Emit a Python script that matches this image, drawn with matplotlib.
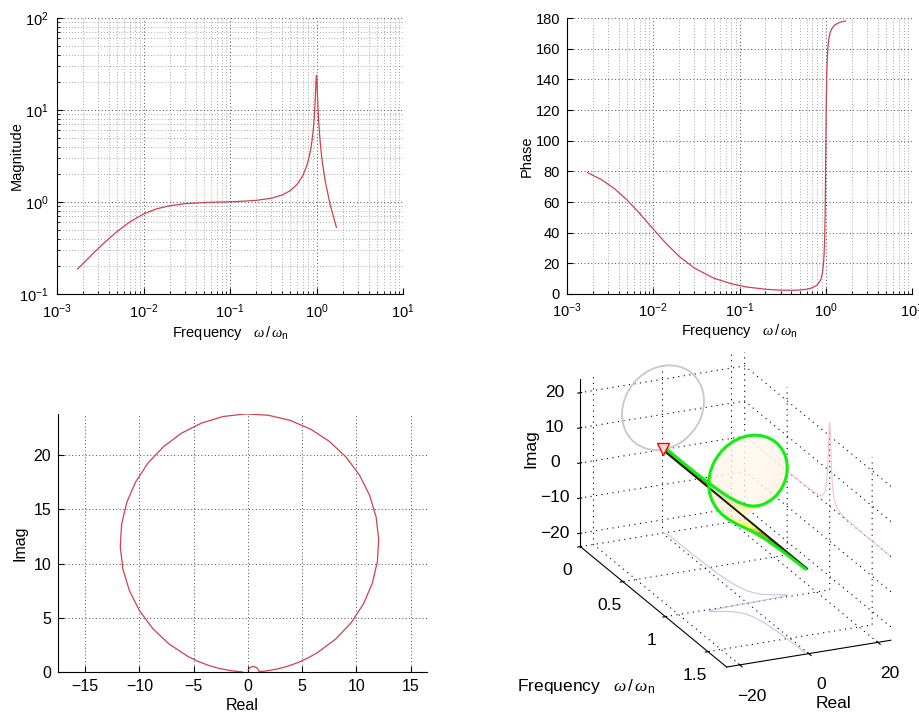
import numpy as np
import matplotlib
matplotlib.use("Agg")
import matplotlib.pyplot as plt
from matplotlib.colors import LinearSegmentedColormap
from matplotlib.ticker import LogLocator, NullFormatter
from mpl_toolkits.mplot3d.art3d import Poly3DCollection

plt.rcParams["font.family"] = ["Liberation Sans", "DejaVu Sans"]
plt.rcParams["mathtext.fontset"] = "custom"
plt.rcParams["mathtext.rm"] = "Liberation Sans"
plt.rcParams["mathtext.it"] = "Liberation Serif:italic"

# frequency response samples, w / wn
freq = [0.00173, 0.0025, 0.0035, 0.005, 0.007, 0.01, 0.014, 0.02, 0.03, 0.05,
        0.08, 0.12, 0.2, 0.3, 0.4, 0.5, 0.6, 0.7, 0.7884, 0.8531,
        0.888, 0.9098, 0.9247, 0.944, 0.956, 0.9643, 0.9705, 0.9753, 0.9792, 0.9825,
        0.9854, 0.988, 0.9903, 0.9924, 0.9944, 0.9963, 0.9982, 1.0, 1.0018, 1.0037,
        1.0056, 1.0077, 1.0098, 1.0122, 1.0148, 1.0178, 1.0212, 1.0253, 1.0304, 1.037,
        1.046, 1.0594, 1.0814, 1.0992, 1.1262, 1.1722, 1.2684, 1.45, 1.7]

magnitude = [0.187, 0.265, 0.359, 0.482, 0.610, 0.740, 0.839, 0.911, 0.958, 0.986,
             1.000, 1.012, 1.041, 1.098, 1.190, 1.333, 1.562, 1.958, 2.632, 3.643,
             4.656, 5.665, 6.664, 8.627, 10.53, 12.35, 14.07, 15.69, 17.19, 18.56,
             19.79, 20.87, 21.79, 22.55, 23.13, 23.54, 23.76, 23.81, 23.68, 23.36,
             22.87, 22.20, 21.37, 20.37, 19.22, 17.92, 16.49, 14.93, 13.25, 11.48,
             9.62, 7.69, 5.70, 4.688, 3.67, 2.651, 1.64, 0.906, 0.529]

# phase in degrees
phase = [79.2, 74.6, 69.0, 61.2, 52.4, 42.3, 33.1, 24.5, 16.9, 10.4,
         6.7, 4.6, 3.1, 2.5, 2.4, 2.6, 3.1, 4.1, 5.7, 8.1,
         10.6, 13.1, 15.6, 20.6, 25.5, 30.5, 35.5, 40.5, 45.5, 50.5,
         55.5, 60.5, 65.5, 70.5, 75.5, 80.5, 85.5, 90.5, 95.5, 100.5,
         105.5, 110.5, 115.5, 120.5, 125.5, 130.5, 135.5, 140.5, 145.5, 150.5,
         155.5, 160.5, 165.5, 168.0, 170.5, 172.9, 175.4, 177.2, 178.1]

f = np.array(freq)
mag = np.array(magnitude)
ph = np.radians(phase)
re = mag * np.cos(ph)
im = mag * np.sin(ph)

red = "#d0404c"
xlab = r"Frequency   $\omega\,/\,\omega_\mathrm{n}$"
major_grid = dict(linestyle=(0, (1, 2.5)), linewidth=0.7, color="#4a4a4a")
minor_grid = dict(linestyle=(0, (1, 2.5)), linewidth=0.6, color="#8c8c8c")

fig = plt.figure(figsize=(9.19, 7.15), dpi=100)


def matlab_style(ax, fs, pad=4):
    ax.spines["top"].set_visible(False)
    ax.spines["right"].set_visible(False)
    ax.tick_params(which="both", direction="in", top=False, right=False,
                   labelsize=fs, pad=pad)
    ax.tick_params(which="major", length=4)
    ax.tick_params(which="minor", length=2)


# magnitude
ax1 = fig.add_axes([57 / 919, 1 - 294 / 715, 346 / 919, 276 / 715])
ax1.loglog(f, mag, color=red, lw=0.9)
ax1.set_xlim(1e-3, 1e1)
ax1.set_ylim(1e-1, 1e2)
ax1.xaxis.set_minor_locator(LogLocator(subs=np.arange(2, 10)))
ax1.yaxis.set_minor_locator(LogLocator(subs=np.arange(2, 10)))
ax1.xaxis.set_minor_formatter(NullFormatter())
ax1.yaxis.set_minor_formatter(NullFormatter())
ax1.grid(True, which="major", **major_grid)
ax1.grid(True, which="minor", **minor_grid)
matlab_style(ax1, 10.5, pad=6)
ax1.set_xlabel(xlab, fontsize=10.5, labelpad=2)
ax1.set_ylabel("Magnitude", fontsize=10.5, labelpad=-3)

# phase
ax2 = fig.add_axes([567 / 919, 1 - 294 / 715, 345 / 919, 276 / 715])
ax2.semilogx(f, phase, color=red, lw=0.9)
ax2.set_xlim(1e-3, 1e1)
ax2.set_ylim(0, 180)
ax2.set_yticks(np.arange(0, 181, 20))
ax2.xaxis.set_minor_locator(LogLocator(subs=np.arange(2, 10)))
ax2.xaxis.set_minor_formatter(NullFormatter())
ax2.grid(True, which="major", **major_grid)
ax2.grid(True, which="minor", axis="x", **minor_grid)
matlab_style(ax2, 10.5, pad=5)
ax2.set_xlabel(xlab, fontsize=10.5, labelpad=2)
ax2.set_ylabel("Phase", fontsize=10.5, labelpad=1)

# nyquist
ax3 = fig.add_axes([58 / 919, 1 - 672 / 715, 369 / 919, 258 / 715])
ax3.plot(re, im, color=red, lw=0.9)
ax3.set_xlim(-17.5, 16.5)
ax3.set_ylim(0, 23.8)
ax3.set_xticks([-15, -10, -5, 0, 5, 10, 15])
ax3.set_yticks([0, 5, 10, 15, 20])
ax3.grid(True, **major_grid)
matlab_style(ax3, 11.5, pad=5)
ax3.set_xlabel("Real", fontsize=11.5, labelpad=3)
ax3.set_ylabel("Imag", fontsize=11.5)

# 3-D view: frequency, real, imag
lim = 23.8
ax4 = fig.add_axes([0.585, 0.02, 0.42, 0.52], projection="3d",
                   proj_type="ortho", computed_zorder=False)
ax4.set_facecolor("none")
ax4.view_init(elev=21.5, azim=-24)
ax4.set_box_aspect((2, 1, 1), zoom=1.15)
ax4.set_xlim(0, 1.72)
ax4.set_ylim(-lim, lim)
ax4.set_zlim(-lim, lim)

for axis in (ax4.xaxis, ax4.yaxis, ax4.zaxis):
    axis.set_pane_color((1, 1, 1, 0))
    axis.pane.set_edgecolor((1, 1, 1, 0))
    axis._axinfo["grid"].update(color="k", linewidth=0.8, linestyle=(0, (1, 4)))
    axis.line.set_color("k")
    axis.line.set_linewidth(0.8)
ax4.zaxis.set_ticks_position("lower")
ax4.zaxis.set_label_position("lower")

# shadows on the back wall, side wall and floor
ax4.plot(np.zeros_like(f), re, im, color="#c8c8c8", lw=1.3, zorder=1)
ax4.plot(f, np.full_like(f, lim), im, color="#f2c4cc", lw=0.8, zorder=1)
ax4.plot(f, re, np.full_like(f, -lim), color="#c4c4ea", lw=0.8, zorder=1)

ribbon = LinearSegmentedColormap.from_list(
    "ribbon", [(0.0, "#1e1800"), (0.05, "#5a4c00"), (0.16, "#ffff20"),
               (0.42, "#fcecd4"), (1.0, "#fff8ee")])
quads, cols = [], []
for i in range(len(f) - 1):
    quads.append([(f[i], 0, 0), (f[i], re[i], im[i]),
                  (f[i + 1], re[i + 1], im[i + 1]), (f[i + 1], 0, 0)])
    cols.append(ribbon(min(1.0, 0.5 * (mag[i] + mag[i + 1]) / lim)))
surf = Poly3DCollection(quads, facecolors=cols, edgecolors="none", alpha=0.8, zorder=2)
ax4.add_collection3d(surf)
ax4.plot(f, np.zeros_like(f), np.zeros_like(f), color="#201c00", lw=1.4, zorder=3)
ax4.plot(f, re, im, color="#11ee11", lw=2.2, zorder=4)
ax4.plot([f[0]], [re[0]], [im[0]], marker="v", ms=8, mec="red", mfc="#ffd8d8",
         ls="none", zorder=5)

ax4.set_xticks([0, 0.5, 1, 1.5])
ax4.set_xticklabels(["0", "0.5", "1", "1.5"])
ax4.set_yticks([-20, 0, 20])
ax4.set_zticks([-20, -10, 0, 10, 20])
ax4.tick_params(labelsize=12.5)
ax4.xaxis.set_rotate_label(False)
ax4.zaxis.set_rotate_label(False)
ax4.set_xlabel(xlab, fontsize=12.5, rotation=0, labelpad=36)
ax4.set_ylabel("Real", fontsize=12.5, labelpad=3)
ax4.set_zlabel("Imag", fontsize=12.5, rotation=90, labelpad=1)

fig.savefig("out.png", dpi=100, facecolor="white")
